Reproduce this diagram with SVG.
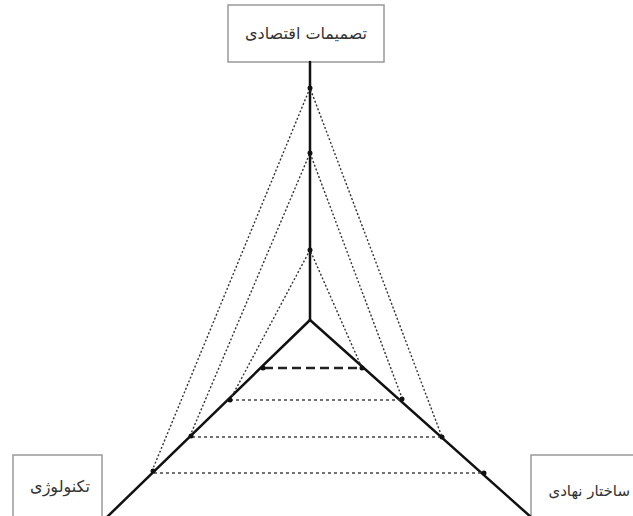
<svg xmlns="http://www.w3.org/2000/svg" width="633" height="516" viewBox="0 0 633 516">
<style>
.box{fill:#fff;stroke:#999;stroke-width:1.5}
.lbl{font-family:"DejaVu Sans",sans-serif;font-size:16px;fill:#333;text-anchor:middle}
.axis{stroke:#111;stroke-width:2.5;fill:none;stroke-linecap:round}
.dot{stroke:#333;stroke-width:1.4;stroke-dasharray:2 2;fill:none}
.hdot{stroke:#444;stroke-width:1.5;stroke-dasharray:3 3;fill:none}
.bold{stroke:#222;stroke-width:2.5;stroke-dasharray:9 5;fill:none}
.pt{fill:#111}
</style>
<rect width="633" height="516" fill="#fff"/>
<g id="node-econ">
<rect class="box" x="228" y="5" width="156" height="57"/>
<text class="lbl" x="306" y="39">تصمیمات اقتصادی</text>
</g>
<g id="node-tech">
<rect class="box" x="13" y="455" width="89" height="70"/>
<text class="lbl" x="60" y="492">تکنولوژی</text>
</g>
<g id="node-inst">
<rect class="box" x="531" y="455" width="110" height="70"/>
<text class="lbl" x="630" y="496" style="text-anchor:end;font-size:15px">ساختار نهادی</text>
</g>
<g id="connectors">
<line class="axis" x1="310" y1="62" x2="310" y2="320"/>
<line class="axis" x1="310" y1="320" x2="106" y2="518"/>
<line class="axis" x1="310" y1="320" x2="532" y2="518"/>
<polyline class="dot" points="230,400 310,250 362,368"/>
<polyline class="dot" points="190,436 310,153 402,398"/>
<polyline class="dot" points="152,471 310,88 442,437"/>
<line class="bold" x1="264" y1="368" x2="362" y2="368"/>
<line class="hdot" x1="230" y1="400" x2="402" y2="400"/>
<line class="hdot" x1="192" y1="437" x2="442" y2="437"/>
<line class="hdot" x1="154" y1="473" x2="483" y2="473"/>
<circle class="pt" cx="310" cy="88" r="2.5"/>
<circle class="pt" cx="310" cy="153" r="2.5"/>
<circle class="pt" cx="310" cy="250" r="2.5"/>
<circle class="pt" cx="263" cy="368" r="2.5"/>
<circle class="pt" cx="230" cy="400" r="2.5"/>
<circle class="pt" cx="191" cy="436" r="2.5"/>
<circle class="pt" cx="153" cy="471" r="2.5"/>
<circle class="pt" cx="362" cy="368" r="2.5"/>
<circle class="pt" cx="402" cy="399" r="2.5"/>
<circle class="pt" cx="442" cy="437" r="2.5"/>
<circle class="pt" cx="484" cy="473" r="2.5"/>
</g>
</svg>
